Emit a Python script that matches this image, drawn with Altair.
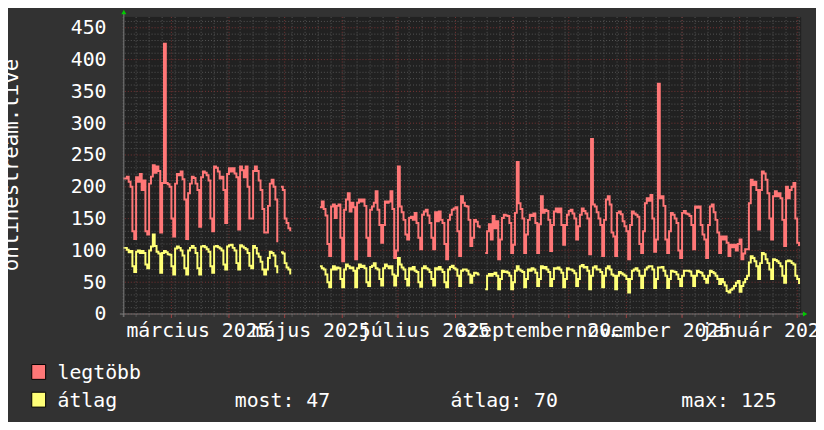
import json
import altair as alt
import pandas as pd

# ---------------- data (daily values, weeks start on Monday 2025-02-03) ----------------
N = None
red_q1 = [
    [213, 213, 216, 208, 200, 130, 118],
    [215, 208, 220, 195, 210, 130, 125],
    [205, 216, 234, 222, 232, 225, 128],
    [206, 425, 206, 204, 200, 150, 122],
    [205, 220, 218, 224, 212, 180, 118],
    [190, 205, 216, 214, 205, 195, 137],
    [215, 224, 222, 218, 210, 150, 130],
    [232, 230, 224, 213, 216, 195, 143],
    [220, 229, 224, 229, 221, 215, 133],
    [232, 226, 215, 232, 200, 150, 150],
    [225, 232, 225, 210, 195, 165, 128],
    [128, 170, 205, 211, 200, 180, 113],
    [N, 200, 195, 150, 143, 135, 130],
]
red_q2 = [
    [N, N, N, N, N, N, N],
    [N, N, N, N, N, N, N],
    [N, 168, 177, 165, 155, 110, 91],
    [169, 172, 151, 170, 172, 120, 83],
    [164, 180, 190, 161, 175, 168, 86],
    [175, 180, 177, 180, 170, 120, 91],
    [164, 169, 175, 193, 164, 140, 112],
    [140, 177, 175, 177, 193, 165, 88],
    [100, 232, 169, 160, 148, 125, 117],
    [151, 153, 148, 159, 143, 120, 102],
    [156, 161, 164, 155, 143, 120, 102],
    [160, 146, 161, 148, 143, 110, 86],
    [148, 156, 164, 166, 168, 130, 91],
]
red_q3 = [
    [185, 175, 170, 169, 148, 107, 120],
    [148, 145, 138, 135, N, N, 96],
    [130, 141, 117, 154, 135, 146, 86],
    [117, 151, 156, 155, 154, 143, 96],
    [109, 159, 239, 174, 165, 150, 96],
    [125, 148, 156, 154, 158, 143, 96],
    [141, 185, 159, 164, 162, 148, 99],
    [140, 161, 166, 160, 166, 140, 109],
    [140, 156, 162, 164, 158, 150, 117],
    [138, 156, 166, 162, 158, 150, 94],
    [275, 172, 169, 160, 150, 140, 91],
    [148, 180, 185, 172, 128, 122, 91],
    [159, 161, 157, 146, 138, 130, 86],
]
red_q4 = [
    [140, 161, 158, 156, 153, 110, 96],
    [130, 174, 182, 178, 187, 150, 98],
    [117, 362, 182, 185, 170, 117, 96],
    [130, 159, 156, 150, 143, 100, 88],
    [159, 162, 158, 157, 154, 140, 102],
    [169, 167, 169, 140, 125, 117, 88],
    [140, 169, 172, 160, 148, 128, 96],
    [122, 117, 122, 112, 91, 109, 105],
    [109, 100, 110, 117, 86, 95, 102],
    [102, 174, 211, 203, 208, 195, 133],
    [195, 224, 221, 211, 190, 150, 117],
    [185, 193, 185, 190, 182, 148, 107],
    [200, 182, 195, 200, 206, 150, 112],
    [107],
]

yellow_q1 = [
    [104, 104, 101, 97, 99, 75, 66],
    [98, 100, 96, 99, 96, 78, 72],
    [100, 106, 125, 107, 98, 95, 65],
    [96, 99, 97, 94, 93, 75, 62],
    [103, 106, 104, 100, 92, 72, 62],
    [100, 104, 107, 104, 96, 72, 62],
    [106, 107, 105, 102, 98, 75, 65],
    [106, 107, 105, 103, 100, 78, 70],
    [106, 108, 109, 104, 100, 80, 70],
    [108, 106, 104, 102, 96, 76, 72],
    [107, 104, 95, 90, 82, 70, 62],
    [70, 88, 98, 96, 92, 75, 64],
    [N, 97, 95, 80, 73, 70, 62],
]
yellow_q2 = [
    [N, N, N, N, N, N, N],
    [N, N, N, N, N, N, N],
    [N, 75, 72, 70, 62, 50, 42],
    [70, 75, 70, 73, 72, 55, 42],
    [70, 78, 75, 72, 73, 68, 42],
    [72, 78, 74, 76, 72, 50, 44],
    [74, 76, 80, 72, 70, 55, 45],
    [72, 78, 75, 72, 75, 62, 45],
    [60, 88, 78, 73, 70, 55, 45],
    [72, 70, 74, 68, 66, 50, 43],
    [72, 75, 72, 70, 66, 55, 45],
    [72, 70, 74, 70, 66, 50, 42],
    [70, 74, 76, 72, 70, 60, 44],
]
yellow_q3 = [
    [68, 70, 70, 68, 62, 49, 60],
    [65, 64, 62, 62, N, N, 39],
    [60, 63, 60, 63, 65, 60, 39],
    [55, 68, 66, 67, 65, 60, 39],
    [50, 68, 75, 70, 68, 66, 42],
    [55, 70, 68, 72, 70, 65, 44],
    [55, 75, 72, 74, 70, 66, 44],
    [55, 72, 71, 73, 70, 65, 42],
    [55, 72, 70, 70, 68, 64, 44],
    [55, 75, 77, 73, 74, 68, 39],
    [60, 73, 75, 70, 70, 66, 42],
    [60, 72, 75, 70, 62, 60, 39],
    [60, 66, 64, 62, 60, 55, 34],
]
yellow_q4 = [
    [55, 68, 70, 72, 68, 60, 41],
    [60, 70, 73, 75, 75, 70, 41],
    [55, 73, 73, 74, 68, 60, 41],
    [55, 68, 67, 66, 62, 55, 44],
    [60, 68, 68, 68, 67, 60, 44],
    [60, 68, 66, 65, 60, 55, 49],
    [60, 68, 66, 64, 60, 55, 47],
    [55, 50, 45, 36, 34, 38, 40],
    [44, 49, 52, 35, 44, 50, 55],
    [60, 81, 91, 88, 83, 75, 55],
    [80, 96, 94, 86, 80, 70, 55],
    [86, 85, 83, 80, 75, 60, 49],
    [83, 84, 83, 80, 78, 60, 55],
    [47],
]

series_names = ["legtöbb", "átlag"]
series_colors = ["#FF7777", "#FFFF77"]
legend_values = ["most: 47", "átlag: 70", "max: 125"]
y_title = "onlinestream.live"

month_names = ["január", "február", "március", "április", "május", "június",
               "július", "augusztus", "szeptember", "október", "november", "december"]
label_dates = [(2025, 3, 15), (2025, 5, 15), (2025, 7, 15),
               (2025, 9, 15), (2025, 11, 15), (2026, 1, 15)]
month_starts = ["2025-03-01", "2025-04-01", "2025-05-01", "2025-06-01", "2025-07-01",
                "2025-08-01", "2025-09-01", "2025-10-01", "2025-11-01", "2025-12-01",
                "2026-01-01", "2026-02-01"]
y_major = [0, 50, 100, 150, 200, 250, 300, 350, 400, 450]
y_minor = [v for v in range(0, 470, 10) if v % 50 != 0]

# ---------------- tables ----------------
def flat(weeks):
    return [v for w in weeks for v in w]

red = flat(red_q1) + flat(red_q2) + flat(red_q3) + flat(red_q4)
yellow = flat(yellow_q1) + flat(yellow_q2) + flat(yellow_q3) + flat(yellow_q4)
dates = pd.date_range("2025-02-03", periods=len(red), freq="D")

df = pd.concat([
    pd.DataFrame({"date": dates, "value": red, "series": series_names[0], "o": 0}),
    pd.DataFrame({"date": dates, "value": yellow, "series": series_names[1], "o": 1}),
])
df["value"] = df["value"].astype(float)

weeks_df = pd.DataFrame({"date": pd.date_range("2025-02-03", "2026-02-02", freq="W-MON")})
months_df = pd.DataFrame({"date": pd.to_datetime(month_starts)})
ymaj_df = pd.DataFrame({"value": y_major})
ymin_df = pd.DataFrame({"value": y_minor})
one = pd.DataFrame({"k": [0]})

# ---------------- style ----------------
W, H = 683, 300
FONT = "DejaVu Sans Mono"
FS = 20
TXT = "#FFFFFF"
MINOR = "#555555"
MAJOR = "#7A3434"
AXIS = "#808080"

x_scale = alt.Scale(domain=[alt.DateTime(year=2025, month=2, date=3, hours=9, minutes=30),
                            alt.DateTime(year=2026, month=2, date=2, hours=14, minutes=20)])
y_scale = alt.Scale(domain=[0, 467], nice=False, zero=True)

label_expr = json.dumps(month_names) + "[month(datum.value)] + ' ' + year(datum.value)"

x_axis = alt.Axis(values=[alt.DateTime(year=y, month=m, date=d) for (y, m, d) in label_dates],
                  labelExpr=label_expr, grid=False, ticks=False, domain=False,
                  labelOverlap=False, labelFlush=False, labelPadding=23,
                  labelBaseline="alphabetic", labelFont=FONT, labelFontSize=FS,
                  labelColor=TXT, title=None)
y_axis = alt.Axis(values=y_major, grid=False, ticks=False, domain=False,
                  labelFont=FONT, labelFontSize=FS, labelColor=TXT, labelPadding=18,
                  title=y_title, titleFont=FONT, titleFontSize=21, titleColor=TXT,
                  titleFontWeight="normal", titleAngle=270, titleX=-107, titleY=149,
                  titleAlign="center", titleBaseline="alphabetic")

# identical axis definitions in every layer, so they merge into one axis each
vx = lambda: alt.X("date:T", scale=x_scale, axis=x_axis)
hy = lambda: alt.Y("value:Q", scale=y_scale, axis=y_axis)

minor_v = alt.Chart(weeks_df).mark_rule(color=MINOR, strokeDash=[1, 2], strokeWidth=1).encode(x=vx())
minor_h = alt.Chart(ymin_df).mark_rule(color=MINOR, strokeDash=[1, 2], strokeWidth=1).encode(y=hy())
major_v = alt.Chart(months_df).mark_rule(color=MAJOR, strokeDash=[1, 2], strokeWidth=1).encode(x=vx())
major_h = alt.Chart(ymaj_df).mark_rule(color=MAJOR, strokeDash=[1, 2], strokeWidth=1).encode(y=hy())

lines = alt.Chart(df).mark_line(interpolate="step-after", strokeWidth=2).encode(
    x=vx(), y=hy(),
    color=alt.Color("series:N", scale=alt.Scale(domain=series_names, range=series_colors), legend=None),
    order=alt.Order("o:Q"),
)

week_ticks = alt.Chart(weeks_df).mark_rule(color=MINOR, strokeWidth=1).encode(
    x=vx(), y=alt.value(300), y2=alt.value(303))
month_ticks = alt.Chart(months_df).mark_rule(color="#A04040", strokeWidth=1).encode(
    x=vx(), y=alt.value(300), y2=alt.value(304))

x_line = alt.Chart(one).mark_rule(color=AXIS, strokeWidth=1).encode(
    x=alt.value(-4), x2=alt.value(687), y=alt.value(300))
y_line = alt.Chart(one).mark_rule(color=AXIS, strokeWidth=1).encode(
    x=alt.value(0), y=alt.value(-5), y2=alt.value(303))
arrow_up = alt.Chart(one).mark_point(shape="triangle-up", filled=True, color="#00CC00",
                                     size=25, opacity=1).encode(x=alt.value(0), y=alt.value(-5))
arrow_right = alt.Chart(one).mark_point(shape="triangle-right", filled=True, color="#00CC00",
                                        size=25, opacity=1).encode(x=alt.value(688), y=alt.value(300))

def square(y0, col):
    return alt.Chart(one).mark_rect(fill=col, stroke="#000000", strokeWidth=1).encode(
        x=alt.value(-93), x2=alt.value(-79), y=alt.value(y0), y2=alt.value(y0 + 15))

def text(s, x, y):
    return alt.Chart(one).mark_text(font=FONT, fontSize=FS, color=TXT, align="left",
                                    baseline="alphabetic").encode(
        x=alt.value(x), y=alt.value(y), text=alt.value(s))

legend = [
    square(351, series_colors[0]), square(379, series_colors[1]),
    text(series_names[0], -67, 366), text(series_names[1], -67, 394),
    text(legend_values[0], 112, 394), text(legend_values[1], 330, 394),
    text(legend_values[2], 563, 394),
]

chart = alt.layer(
    minor_v, minor_h, major_v, major_h, lines, week_ticks, month_ticks,
    x_line, y_line, arrow_up, arrow_right, *legend
).properties(
    width=W, height=H,
    padding={"left": 117, "top": 7, "right": 16, "bottom": 107},
    autosize=alt.AutoSizeParams(type="none"),
    background="#323232",
).configure_view(fill="#212121", stroke="#212121")

chart.save("out.html", embed_options={"renderer": "svg", "actions": False})
